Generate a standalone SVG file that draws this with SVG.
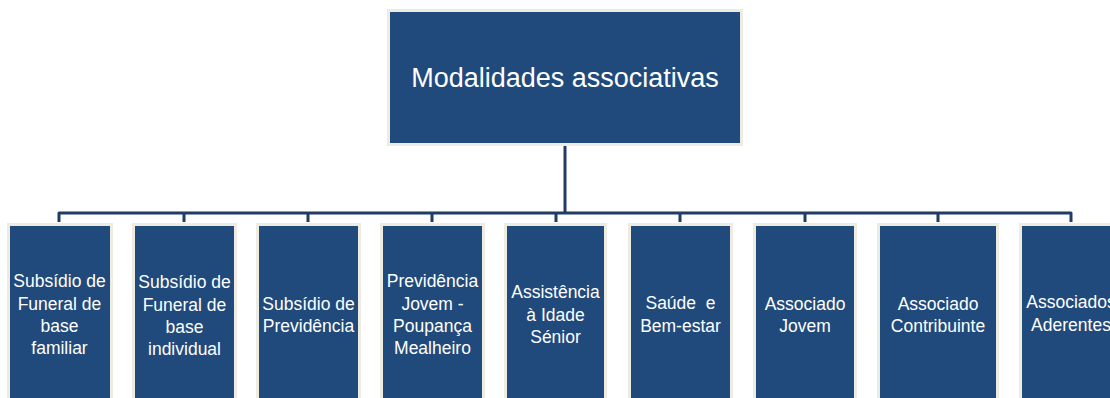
<svg xmlns="http://www.w3.org/2000/svg" width="1110" height="398" viewBox="0 0 1110 398">
<style>
.box{fill:#204a7c;stroke:#eeece1;stroke-width:3}
.t{font-family:"Liberation Sans",Arial,sans-serif;font-size:17.5px;fill:#ffffff;text-anchor:middle}
.title{font-family:"Liberation Sans",Arial,sans-serif;font-size:27px;fill:#ffffff;text-anchor:middle}
.c{fill:none;stroke:#1f3b66;stroke-width:3;stroke-linejoin:round}
</style>
<rect width="1110" height="398" fill="#ffffff"/>
<g id="connectors">
<path class="c" d="M565 146V213"/>
<path class="c" d="M59 222V213H1071V222"/>
<path class="c" d="M184 213V222M308 213V222M432 213V222M556 213V222M680 213V222M805 213V222M938 213V222"/>
</g>
<g id="root">
<rect class="box" x="388.5" y="10.5" width="353" height="134"/>
<text class="title" x="565" y="87">Modalidades associativas</text>
</g>
<g id="n1">
<rect class="box" x="8.5" y="224.5" width="103" height="200"/>
<text class="t" x="59.5" y="287">Subsídio de</text>
<text class="t" x="59.5" y="309.5">Funeral de</text>
<text class="t" x="59.5" y="332">base</text>
<text class="t" x="59.5" y="354">familiar</text>
</g>
<g id="n2">
<rect class="box" x="133.5" y="224.5" width="102" height="200"/>
<text class="t" x="184.5" y="288">Subsídio de</text>
<text class="t" x="184.5" y="310.5">Funeral de</text>
<text class="t" x="184.5" y="333">base</text>
<text class="t" x="184.5" y="355">individual</text>
</g>
<g id="n3">
<rect class="box" x="257.5" y="224.5" width="102" height="200"/>
<text class="t" x="308.5" y="310">Subsídio de</text>
<text class="t" x="308.5" y="332">Previdência</text>
</g>
<g id="n4">
<rect class="box" x="381.5" y="224.5" width="102" height="200"/>
<text class="t" x="432.5" y="287">Previdência</text>
<text class="t" x="432.5" y="309.5">Jovem -</text>
<text class="t" x="432.5" y="332">Poupança</text>
<text class="t" x="432.5" y="354">Mealheiro</text>
</g>
<g id="n5">
<rect class="box" x="505.5" y="224.5" width="100" height="200"/>
<text class="t" x="555.5" y="298">Assistência</text>
<text class="t" x="555.5" y="320.5">à Idade</text>
<text class="t" x="555.5" y="343">Sénior</text>
</g>
<g id="n6">
<rect class="box" x="629.5" y="224.5" width="102" height="200"/>
<text class="t" x="680.5" y="309" xml:space="preserve">Saúde  e</text>
<text class="t" x="680.5" y="332">Bem-estar</text>
</g>
<g id="n7">
<rect class="box" x="754.5" y="224.5" width="101" height="200"/>
<text class="t" x="805" y="310">Associado</text>
<text class="t" x="805" y="332">Jovem</text>
</g>
<g id="n8">
<rect class="box" x="878.5" y="224.5" width="119" height="200"/>
<text class="t" x="938" y="310">Associado</text>
<text class="t" x="938" y="332">Contribuinte</text>
</g>
<g id="n9">
<rect class="box" x="1020.5" y="224.5" width="101" height="200"/>
<text class="t" x="1071" y="308">Associados</text>
<text class="t" x="1071" y="331">Aderentes</text>
</g>
</svg>
